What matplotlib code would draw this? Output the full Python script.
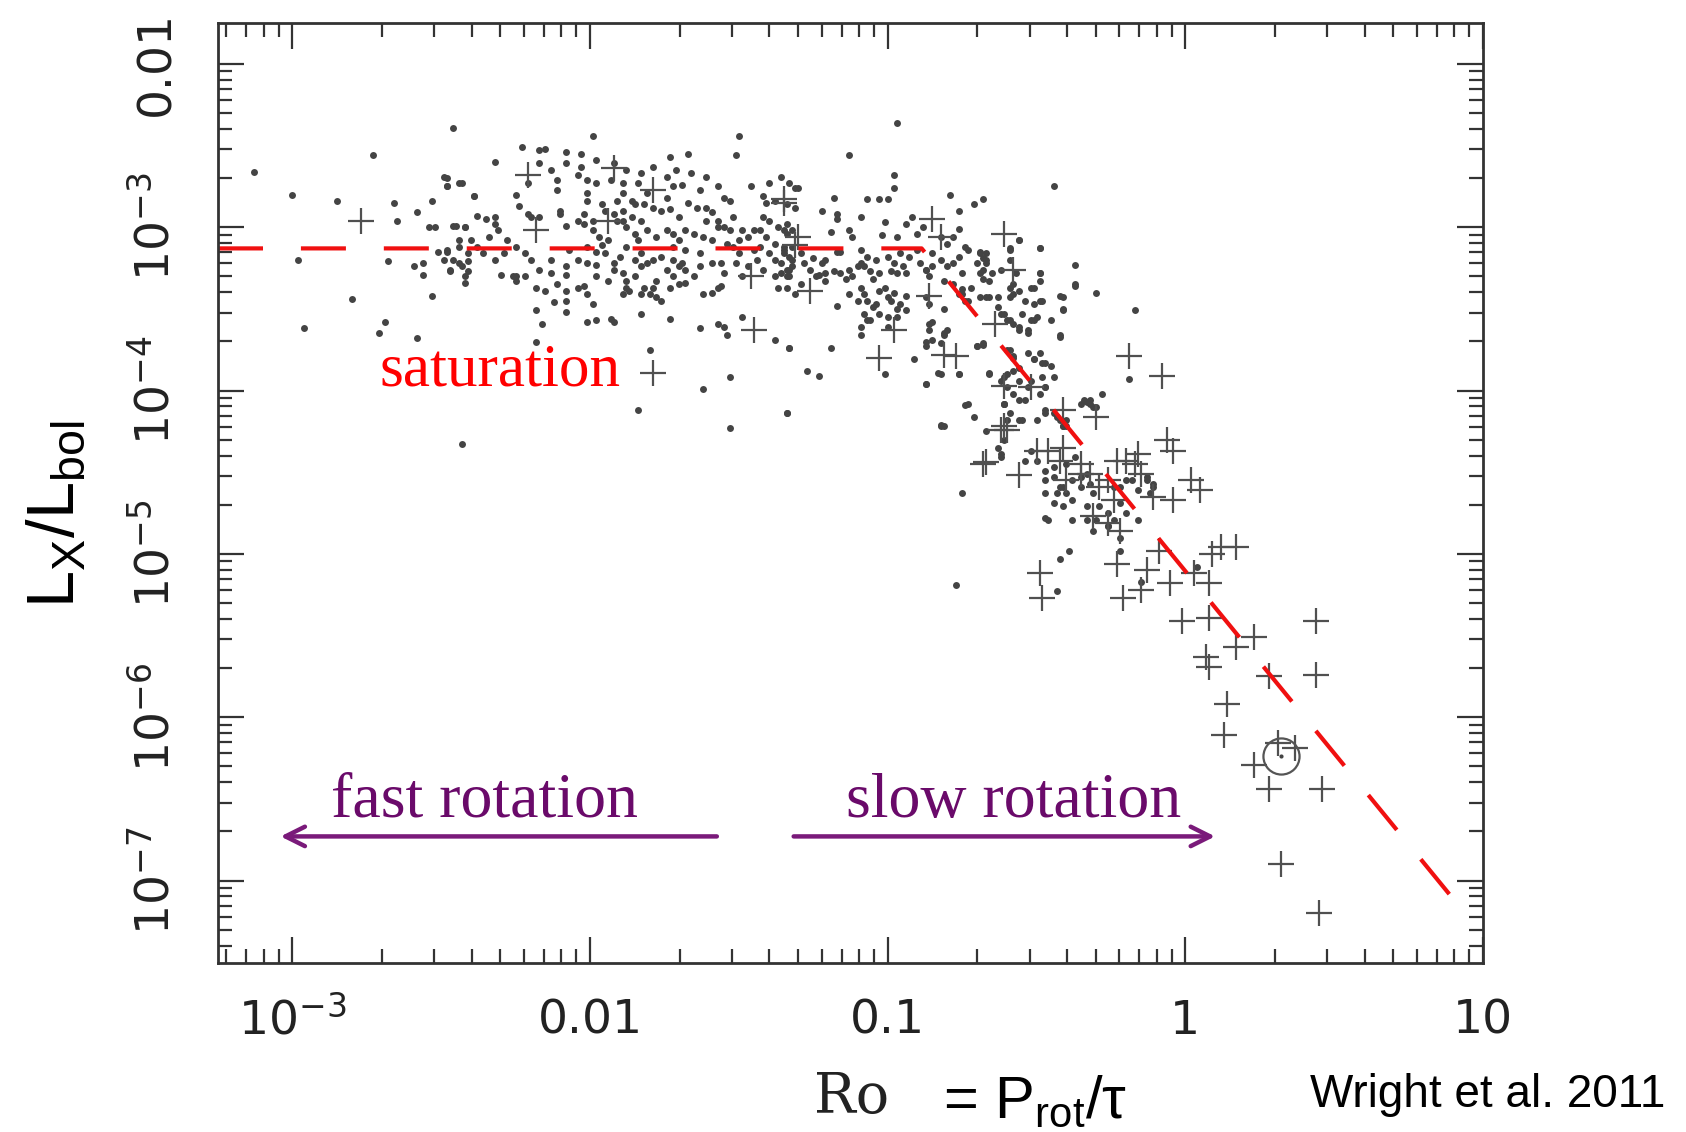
import numpy as np
import matplotlib.pyplot as plt

# Valores: (log10 Ro, log10 Lx/Lbol)
pontos_sat = [
    (-3.13, -2.66), (-2.73, -2.56), (-3.00, -2.80), (-2.85, -2.84), (-2.66, -2.85), (-2.65, -2.96),
    (-2.58, -2.91), (-2.53, -2.84), (-2.49, -2.69), (-2.48, -2.75), (-2.44, -2.73), (-2.39, -2.81),
    (-2.54, -3.00), (-2.52, -3.00), (-2.46, -2.99), (-2.42, -3.00), (-2.98, -3.20), (-2.68, -3.21),
    (-2.59, -3.24), (-2.56, -3.22), (-2.56, -3.29), (-2.51, -3.15), (-2.48, -3.15), (-2.49, -3.20),
    (-2.47, -3.27), (-2.44, -3.22), (-2.41, -3.21), (-2.41, -3.27), (-2.42, -3.34), (-2.44, -3.12),
    (-2.80, -3.44), (-2.53, -3.42), (-2.96, -3.62), (-2.69, -3.58), (-2.71, -3.65), (-2.58, -3.68),
    (-2.43, -4.33),
    (-2.46, -2.39), (-1.99, -2.44), (-1.50, -2.44), (-1.51, -2.56), (-2.23, -2.51), (-2.17, -2.53),
    (-2.15, -2.52), (-2.08, -2.54), (-2.03, -2.55), (-1.73, -2.57), (-1.67, -2.55), (-2.32, -2.60),
    (-2.21, -2.73), (-2.48, -2.70), (-2.43, -2.73), (-2.48, -2.75), (-2.04, -2.68), (-2.01, -2.71),
    (-1.98, -2.73), (-2.11, -2.71), (-2.11, -2.77), (-2.39, -2.81), (-2.25, -2.80), (-2.24, -2.87),
    (-2.21, -2.92), (-2.20, -2.94), (-2.17, -2.94), (-2.38, -2.93), (-2.35, -2.95), (-2.32, -2.94),
    (-2.32, -2.98), (-2.31, -3.02), (-2.45, -2.99), (-2.42, -3.00), (-2.34, -3.06), (-2.10, -2.90),
    (-2.10, -2.92), (-2.08, -2.99), (-2.04, -2.96), (-2.02, -2.92), (-2.01, -2.79), (-2.01, -2.84),
    (-2.02, -2.98), (-1.99, -2.96), (-1.96, -2.86), (-1.95, -2.90), (-1.91, -2.84), (-1.89, -2.79),
    (-1.86, -2.84), (-1.89, -2.90), (-1.86, -2.94), (-1.89, -2.96), (-1.93, -2.71), (-1.89, -2.73),
    (-1.84, -2.73), (-1.81, -2.79), (-1.79, -2.88), (-1.76, -2.90), (-1.73, -2.89), (-1.70, -2.94),
    (-1.67, -2.85), (-1.64, -2.88), (-1.63, -2.77), (-1.69, -2.74), (-1.66, -2.67), (-1.61, -2.88),
    (-1.59, -2.91), (-1.57, -2.96), (-1.55, -3.00), (-1.52, -2.94), (-1.49, -3.02), (-1.46, -2.75),
    (-1.42, -2.81), (-1.41, -2.85), (-1.38, -2.84), (-1.34, -2.86), (-1.31, -2.76), (-1.42, -2.94),
    (-1.40, -2.96), (-1.37, -3.00), (-1.35, -3.02), (-1.32, -3.02), (-1.43, -3.02), (-1.41, -3.06),
    (-1.38, -3.10), (-1.35, -3.14), (-1.32, -3.20), (-1.45, -3.14), (-1.44, -3.20), (-1.42, -3.26),
    (-1.38, -3.30), (-1.34, -3.30), (-1.37, -3.37), (-1.51, -3.22), (-1.47, -3.24), (-1.49, -3.30),
    (-2.48, -3.14), (-2.46, -3.20), (-2.43, -3.24), (-2.42, -3.30), (-2.47, -3.26), (-2.41, -3.16),
    (-2.30, -3.29), (-2.26, -3.30), (-2.25, -3.33), (-2.22, -3.30), (-2.18, -3.37), (-2.13, -3.28),
    (-2.08, -3.29), (-2.04, -3.20), (-2.13, -3.20), (-2.08, -3.24), (-2.07, -3.14), (-2.01, -3.12),
    (-1.98, -3.15), (-1.98, -3.23), (-1.96, -3.11), (-1.95, -3.16), (-1.94, -3.33), (-2.02, -3.36),
    (-2.01, -3.41), (-1.99, -3.47), (-1.92, -3.26), (-1.89, -3.28), (-1.88, -3.33), (-1.85, -3.30),
    (-1.83, -3.24), (-1.83, -3.16), (-1.81, -3.22), (-1.79, -3.20), (-1.78, -3.33), (-1.79, -3.37),
    (-1.88, -3.37), (-1.89, -3.41), (-1.87, -3.39), (-1.82, -3.37), (-1.80, -3.41), (-1.78, -3.43),
    (-1.72, -3.20), (-1.70, -3.24), (-1.69, -3.22), (-1.68, -3.26), (-1.65, -3.30), (-1.63, -3.24),
    (-1.72, -3.12), (-1.68, -3.14), (-1.63, -3.16), (-1.59, -3.22), (-1.56, -3.22), (-1.55, -3.28),
    (-1.57, -3.37), (-1.56, -3.36), (-1.62, -3.41), (-1.59, -3.40), (-1.68, -3.34), (-2.18, -3.51),
    (-2.12, -3.46), (-2.08, -3.45), (-2.08, -3.52), (-2.16, -3.59), (-2.01, -3.58), (-1.98, -3.57),
    (-1.93, -3.56), (-1.92, -3.58), (-1.83, -3.53), (-1.73, -3.56), (-1.63, -3.62), (-1.57, -3.59),
    (-1.55, -3.61), (-1.54, -3.66), (-1.49, -3.55), (-1.38, -3.69), (-1.33, -3.74), (-2.18, -3.70),
    (-1.80, -3.75), (-1.62, -3.99), (-1.53, -3.92), (-1.84, -4.12), (-1.53, -4.23), (-1.34, -4.14),
    (-2.25, -3.30),
    (-1.92, -2.92), (-1.91, -2.96), (-1.88, -3.00), (-1.85, -3.04), (-1.83, -2.96), (-1.81, -3.02),
    (-1.78, -3.06), (-1.74, -3.02), (-1.72, -3.04), (-1.70, -3.08), (-1.88, -3.12), (-1.84, -3.08),
    (-1.90, -3.18), (-1.92, -3.22), (-1.85, -3.20), (-1.76, -3.18), (-1.74, -3.26), (-1.72, -3.30),
    (-1.70, -3.35), (-1.83, -3.41), (-1.76, -3.45), (-1.73, -3.37), (-1.99, -3.02), (-1.97, -3.06),
    (-1.94, -3.08), (-2.01, -3.22), (-1.98, -3.30), (-2.04, -3.37), (-2.08, -3.39), (-2.11, -3.35),
    (-2.15, -3.39), (-2.17, -3.26), (-2.20, -3.20), (-2.22, -3.16), (-2.25, -3.12), (-2.28, -3.08),
    (-2.29, -3.16), (-2.32, -3.20), (-2.36, -3.16), (-2.38, -3.12), (-2.40, -3.08), (-2.44, -3.08),
    (-1.52, -3.12), (-1.50, -3.08), (-1.47, -3.06), (-1.45, -3.02), (-1.54, -3.10), (-1.59, -3.08),
    (-1.62, -3.06), (-1.65, -3.04), (-1.68, -3.02), (-1.61, -2.96), (-1.57, -3.00), (-1.53, -3.02),
    (-1.50, -3.16), (-1.43, -3.12), (-1.40, -3.16), (-1.36, -3.22), (-1.33, -3.26), (-1.32, -3.12),
    (-1.38, -3.20),
    (-2.17, -2.61), (-2.13, -2.65), (-2.08, -2.61), (-2.03, -2.63), (-1.98, -2.59), (-1.92, -2.61),
    (-1.88, -2.65), (-1.83, -2.67), (-1.79, -2.63), (-1.74, -2.69), (-1.71, -2.65), (-1.61, -2.69),
    (-1.57, -2.75), (-1.55, -2.82), (-1.53, -2.84), (-1.40, -2.73), (-1.36, -2.69), (-1.33, -2.73),
    (-1.85, -2.86), (-1.82, -2.86), (-1.74, -2.82), (-1.72, -2.75),
]

pontos_unsat = [
    (-0.97, -2.36), (-1.13, -2.56), (-0.98, -2.68), (-0.98, -2.76), (-0.44, -2.75), (-1.30, -2.76),
    (-0.79, -2.80), (-1.18, -2.82), (-1.07, -2.83), (-1.03, -2.83), (-1.00, -2.83), (-0.71, -2.86),
    (-0.68, -2.83), (-1.22, -2.90), (-1.17, -2.92), (-1.17, -2.95), (-1.09, -2.94), (-1.01, -2.97),
    (-0.94, -2.98), (-0.92, -2.94), (-0.76, -2.90), (-0.76, -3.01), (-1.31, -2.88), (-1.34, -2.98),
    (-1.34, -3.04), (-1.19, -3.03), (-1.13, -3.02), (-1.12, -3.06), (-1.02, -3.05), (-0.97, -3.06),
    (-0.90, -3.04), (-0.88, -3.00), (-0.78, -3.06), (-0.74, -3.12), (-0.69, -3.15), (-0.68, -3.19),
    (-0.67, -3.22), (-0.59, -3.13), (-0.56, -3.08), (-0.49, -3.13), (-0.37, -3.23), (-0.37, -3.36),
    (-0.30, -3.40), (-1.35, -3.16), (-1.33, -3.18), (-1.29, -3.16), (-1.25, -3.19), (-1.22, -3.22),
    (-1.21, -3.20), (-1.17, -3.15), (-1.16, -3.15), (-1.09, -3.14), (-1.23, -3.29), (-1.21, -3.28),
    (-1.18, -3.27), (-1.33, -3.30), (-1.34, -3.26), (-1.29, -3.35), (-1.13, -3.26), (-1.12, -3.30),
    (-1.09, -3.22), (-1.08, -3.24), (-1.06, -3.27), (-1.03, -3.28), (-0.99, -3.27), (-0.97, -3.28),
    (-0.95, -3.24), (-0.94, -3.28), (-1.09, -3.37), (-1.08, -3.41), (-1.07, -3.45), (-1.05, -3.49),
    (-1.03, -3.39), (-1.00, -3.43), (-0.98, -3.40), (-1.03, -3.53), (-1.00, -3.55), (-0.97, -3.50),
    (-0.94, -3.42), (-0.94, -3.51), (-1.08, -3.53), (-1.07, -3.57), (-1.09, -3.61), (-1.09, -3.66),
    (-0.89, -3.22), (-0.87, -3.26), (-0.86, -3.30), (-0.85, -3.24), (-0.82, -3.20), (-0.80, -3.24),
    (-0.81, -3.33), (-0.78, -3.35), (-0.75, -3.38), (-0.75, -3.41), (-0.73, -3.45), (-0.87, -3.43),
    (-0.86, -3.47), (-0.81, -3.50), (-0.85, -3.58), (-0.86, -3.63), (-0.87, -3.70), (-0.80, -3.63),
    (-0.81, -3.66), (-0.70, -3.22), (-0.69, -3.28), (-0.68, -3.32), (-0.65, -3.28), (-0.67, -3.16),
    (-0.66, -3.43), (-0.63, -3.43), (-0.62, -3.53), (-0.60, -3.57), (-0.58, -3.59), (-0.56, -3.63),
    (-0.53, -3.65), (-0.59, -3.37), (-0.58, -3.41), (-0.54, -3.45), (-0.51, -3.47), (-0.48, -3.45),
    (-0.55, -3.53), (-0.52, -3.57), (-0.50, -3.55), (-0.51, -3.37), (-0.49, -3.28), (-0.49, -3.33),
    (-0.45, -3.57), (-0.42, -3.42), (-0.41, -3.50), (-0.42, -3.66), (-0.70, -3.73), (-0.68, -3.72),
    (-0.59, -3.75), (-0.58, -3.80), (-0.53, -3.77), (-0.51, -3.81), (-0.48, -3.83), (-0.45, -3.85),
    (-0.58, -3.88), (-0.56, -3.94), (-0.53, -3.98), (-0.48, -3.92), (-0.47, -3.98), (-0.49, -4.02),
    (-0.66, -3.89), (-0.61, -3.92), (-0.60, -3.98), (-0.61, -4.08), (-0.59, -4.14), (-0.56, -4.18),
    (-0.47, -4.12), (-0.43, -4.16), (-0.40, -4.18), (-0.41, -4.22), (-0.34, -4.06), (-0.32, -4.08),
    (-1.33, -3.74), (-1.19, -3.74), (-1.27, -3.88), (-1.23, -3.91), (-1.17, -3.48), (-1.01, -3.90),
    (-0.91, -3.81), (-0.87, -3.96), (-0.83, -3.89), (-0.76, -3.90), (-0.74, -4.09), (-0.82, -4.22),
    (-1.34, -4.14),
    (-0.17, -3.51), (-0.19, -3.93), (-0.28, -4.02), (-0.75, -4.63), (-0.46, -4.79), (-0.52, -4.37),
    (-0.50, -4.43), (-0.47, -4.49), (-0.44, -4.53), (-0.42, -4.59), (-0.40, -4.63), (-0.38, -4.55),
    (-0.35, -4.59), (-0.33, -4.51), (-0.31, -4.63), (-0.29, -4.71), (-0.26, -4.75), (-0.24, -4.79),
    (-0.22, -4.69), (-0.20, -4.75), (-0.16, -4.79), (-0.47, -4.63), (-0.44, -4.69), (-0.41, -4.71),
    (-0.38, -4.79), (-0.33, -4.79), (-0.31, -4.86), (-0.26, -4.83), (-0.22, -4.59), (-0.18, -4.55),
    (-0.13, -4.53), (-0.11, -4.57), (-0.12, -4.63), (-0.62, -4.39), (-0.63, -4.35), (-0.54, -4.43),
    (-0.42, -5.03), (-0.39, -4.98), (-0.43, -5.23), (-0.15, -5.17), (-0.22, -4.98), (0.04, -5.08),
    (-0.67, -4.25), (-0.62, -4.41), (-0.61, -4.30), (-0.47, -4.78), (-0.82, -4.21), (-0.77, -5.19),
    (-0.82, -3.06), (-0.80, -3.10), (-0.85, -3.16), (-0.87, -3.26), (-0.78, -3.22), (-0.76, -3.18),
    (-0.73, -3.14), (-0.69, -3.16), (-0.67, -3.20), (-0.68, -3.26), (-0.66, -3.33), (-0.62, -3.26),
    (-0.59, -3.20), (-0.57, -3.28), (-0.75, -3.28), (-0.72, -3.37), (-0.76, -3.41), (-0.74, -3.45),
    (-0.69, -3.43), (-0.67, -3.43), (-0.63, -3.49), (-0.61, -3.53), (-0.59, -3.57), (-0.56, -3.61),
    (-0.53, -3.63), (-0.51, -3.57), (-0.49, -3.45), (-0.52, -3.37), (-0.56, -3.39), (-0.59, -3.43),
    (-0.58, -3.35), (-0.49, -3.28), (-0.49, -3.13), (-0.56, -3.08), (-0.59, -3.14), (-0.86, -3.59),
    (-0.81, -3.65), (-0.82, -3.71), (-0.85, -3.69), (-0.87, -3.73), (-0.70, -3.73), (-0.68, -3.71),
    (-0.60, -3.75), (-0.58, -3.79), (-0.56, -3.86), (-0.51, -3.81), (-0.49, -3.77), (-0.47, -3.83),
    (-0.44, -3.92), (-0.47, -3.98), (-0.52, -3.94), (-0.60, -3.90), (-0.62, -3.94), (-0.58, -4.02),
    (-0.56, -4.06), (-0.61, -4.08), (-0.60, -4.18), (-0.50, -4.18), (-0.44, -4.14), (-0.41, -4.22),
    (-0.66, -3.90), (-0.73, -4.08), (-0.71, -4.16), (-0.81, -4.22), (-0.87, -3.96), (-0.82, -3.90),
    (-0.76, -3.90), (-0.41, -3.43), (-0.41, -3.51), (-0.42, -3.67), (-0.37, -3.35), (-0.33, -4.07),
    (-0.31, -4.10),
    (-1.35, -3.12), (-1.32, -3.24), (-1.28, -3.22), (-1.26, -3.26), (-1.24, -3.30), (-1.21, -3.33),
    (-1.16, -3.28), (-1.14, -3.32), (-1.10, -3.24), (-1.07, -3.18), (-1.04, -3.20), (-1.00, -3.18),
    (-0.98, -3.22), (-0.96, -3.16), (-0.93, -3.18), (-0.90, -3.14), (-1.05, -3.32), (-1.01, -3.37),
    (-0.99, -3.45), (-0.96, -3.47), (-1.04, -3.47), (-1.06, -3.57), (-0.97, -3.55), (-1.00, -3.61),
    (-1.10, -3.45), (-1.13, -3.41), (-1.36, -3.28), (-1.34, -3.37), (-1.31, -3.41),
    (-0.61, -4.08), (-0.54, -4.06), (-0.55, -4.18), (-0.47, -4.14), (-0.42, -4.18), (-0.40, -4.22),
    (-0.35, -4.08), (-0.32, -4.06), (-0.30, -4.10), (-0.41, -4.59), (-0.43, -4.63), (-0.38, -4.67),
    (-0.33, -4.71), (-0.30, -4.79), (-0.26, -4.83), (-0.22, -4.90), (-0.35, -4.53), (-0.32, -4.57),
    (-0.24, -4.59), (-0.20, -4.55), (-0.16, -4.61), (-0.13, -4.55), (-0.11, -4.59), (-0.47, -4.55),
    (-0.44, -4.47), (-0.40, -4.45), (-0.37, -4.41),
]

cruzes = [
    (-2.77, -2.96), (-2.21, -2.68), (-1.92, -2.64), (-1.79, -2.77), (-1.94, -2.96), (-2.18, -3.02),
    (-1.35, -2.85), (-1.46, -3.30), (-1.45, -3.63), (-1.79, -3.89), (-1.31, -3.11),
    (-1.35, -2.83), (-1.30, -3.06), (-1.26, -3.39), (-0.98, -3.63), (-1.03, -3.80), (-0.85, -2.95),
    (-0.82, -3.06), (-0.86, -3.42), (-0.81, -3.78), (-0.77, -3.79), (-0.61, -3.04), (-0.58, -3.26),
    (-0.61, -3.97), (-0.52, -3.98), (-0.41, -4.12), (-0.60, -4.24), (-0.64, -3.59),
    (-0.19, -3.79), (-0.08, -3.91), (-0.30, -4.16), (-0.06, -4.30), (-0.04, -4.37), (-0.16, -4.39),
    (-0.20, -4.43), (-0.15, -4.51), (0.02, -4.55), (0.05, -4.61), (-0.04, -4.67), (-0.11, -4.65),
    (-0.68, -4.45), (-0.56, -4.52), (-0.50, -4.37), (-0.46, -4.37), (-0.42, -4.43), (-0.40, -4.55),
    (-0.35, -4.51), (-0.29, -4.59), (-0.24, -4.67), (-0.31, -4.77), (-0.26, -4.81), (-0.22, -4.86),
    (-0.61, -4.22), (-0.41, -4.35), (-0.35, -4.45), (-0.32, -4.51), (-0.26, -4.55), (-0.23, -4.43),
    (-0.17, -4.45),
    (-0.49, -5.12), (-0.48, -5.27), (-0.23, -5.06), (-0.21, -5.27), (-0.15, -5.22), (-0.13, -5.10),
    (-0.09, -4.98), (-0.05, -5.18), (-0.01, -5.41), (0.03, -5.12), (0.08, -5.18), (0.09, -5.00),
    (0.12, -4.96), (0.17, -4.96), (0.08, -5.39), (0.07, -5.63), (0.08, -5.69), (0.17, -5.57),
    (0.23, -5.51), (0.28, -5.75), (0.14, -5.92), (-0.67, -4.44), (-0.62, -4.24),
    (0.44, -5.41), (0.44, -5.74), (0.13, -6.11), (0.23, -6.29), (0.28, -6.44), (0.46, -6.44),
    (0.37, -6.19), (0.31, -6.16), (0.32, -6.90), (0.45, -7.20),
]

sol = (0.32, -6.24)

# ajuste: saturacao e lei de potencia
ro_sat, lx_sat, inclinacao = -0.886, -3.13, -2.23
ro_min, ro_fim = -3.25, 0.965
linha_ro = [ro_min, ro_sat, ro_fim]
linha_lx = [lx_sat, lx_sat, lx_sat + inclinacao * (ro_fim - ro_sat)]

rotulos_x = [r'$\mathregular{10^{-3}}$', '0.01', '0.1', '1', '10']
pos_x = [1e-3, 1e-2, 1e-1, 1, 10]
rotulos_y = [r'$\mathregular{10^{-7}}$', r'$\mathregular{10^{-6}}$', r'$\mathregular{10^{-5}}$',
             r'$\mathregular{10^{-4}}$', r'$\mathregular{10^{-3}}$', '0.01']
pos_y = [1e-7, 1e-6, 1e-5, 1e-4, 1e-3, 1e-2]

fig = plt.figure(figsize=(16.86, 11.32), dpi=100)
ax = fig.add_axes([218 / 1686, 1 - 963 / 1132, 1265 / 1686, 940 / 1132])
ax.set_xscale('log')
ax.set_yscale('log')

ds = np.array(pontos_sat + pontos_unsat)
ax.plot(10 ** ds[:, 0], 10 ** ds[:, 1], 'o', ms=5.0, mew=0, color='#444444')
cz = np.array(cruzes)
ax.plot(10 ** cz[:, 0], 10 ** cz[:, 1], '+', ms=19, mew=1.6, color='#505050')
ax.plot(10 ** sol[0], 10 ** sol[1], 'o', ms=26, mfc='none', mec='#555555', mew=1.6)
ax.plot(10 ** sol[0], 10 ** sol[1], 'o', ms=3, mew=0, color='#444444')

lin, = ax.plot(10 ** np.array(linha_ro), 10 ** np.array(linha_lx), color='#f01010', lw=3, ls='--')
lin.set_dashes([10.8, 9.1])

ax.set_xlim(10 ** -3.25, 10)
ax.set_ylim(10 ** -7.505, 10 ** -1.75)

ax.set_xticks(pos_x)
ax.set_xticklabels(rotulos_x)
ax.set_yticks(pos_y)
ax.set_yticklabels(rotulos_y)
ax.tick_params(which='both', direction='in', top=True, right=True, color='#333333', width=1.6)
ax.tick_params(which='major', length=19)
ax.tick_params(which='minor', length=10)
ax.tick_params(axis='x', pad=51, labelsize=34, labelcolor='#222222')
ax.tick_params(axis='y', pad=28, labelsize=34, labelcolor='#222222')
for lab in ax.get_xticklabels():
    lab.set_va('baseline')
for lab in ax.get_yticklabels():
    lab.set_rotation(90)
    lab.set_va('center')
    lab.set_ha('right')
for s in ax.spines.values():
    s.set_linewidth(2)
    s.set_color('#333333')

# textos
ax.text(10 ** -2.706, 10 ** -3.97, 'saturation', color='red', fontsize=44,
        family='Liberation Serif', va='baseline')
roxo = '#6a0a6a'
ax.text(10 ** -2.87, 10 ** -6.61, 'fast rotation', color=roxo, fontsize=46,
        family='Liberation Serif', va='baseline')
ax.text(10 ** -1.14, 10 ** -6.61, 'slow rotation', color=roxo, fontsize=46,
        family='Liberation Serif', va='baseline')
ax.annotate('', xy=(10 ** -3.04, 10 ** -6.73), xytext=(10 ** -1.574, 10 ** -6.73),
            arrowprops=dict(arrowstyle='->', lw=3.2, color='#7a1a7a', mutation_scale=35,
                            shrinkA=0, shrinkB=0))
ax.annotate('', xy=(10 ** 0.10, 10 ** -6.73), xytext=(10 ** -1.316, 10 ** -6.73),
            arrowprops=dict(arrowstyle='->', lw=3.2, color='#7a1a7a', mutation_scale=35,
                            shrinkA=0, shrinkB=0))

fig.text(57 / 1686, 1 - 514 / 1132, r'L$_{\mathregular{X}}$/L$_{\mathregular{bol}}$',
         rotation=90, fontsize=48, family='Liberation Sans', ha='center', va='center')
fig.text(814 / 1686, 1 - 1113 / 1132, 'Ro', fontsize=40, family='DejaVu Serif',
         color='#222222', va='baseline')
fig.text(943 / 1686, 1 - 1118 / 1132, r'= P$_{\mathregular{rot}}$/τ', fontsize=43,
         family='Liberation Sans', va='baseline')
fig.text(1310 / 1686, 1 - 1107 / 1132, 'Wright et al. 2011', fontsize=33,
         family='Liberation Sans', va='baseline')

plt.savefig('out.png', dpi=100)
